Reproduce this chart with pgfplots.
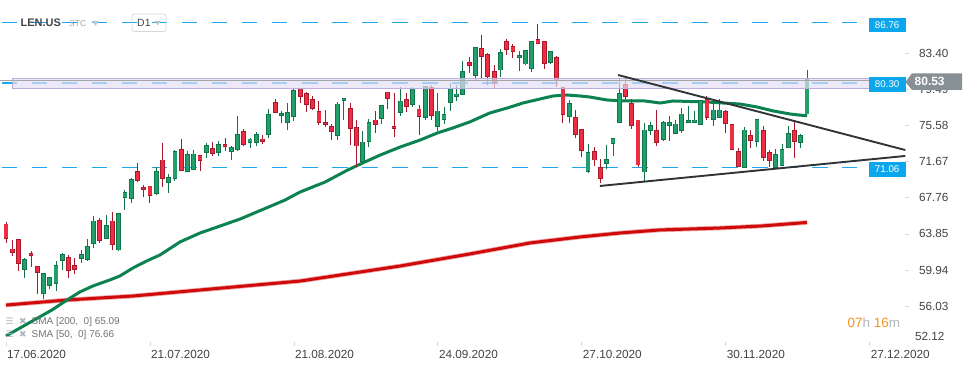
\documentclass[border=0pt]{standalone}
\usepackage{pgfplots}
\pgfplotsset{compat=1.18}
\usepackage{pgfplotstable}
\usepackage{fontspec}
\setmainfont{Liberation Sans}
\newfontfamily\dejavu{DejaVu Sans}

\definecolor{upfill}{HTML}{22A06B}
\definecolor{upline}{HTML}{11734A}
\definecolor{dnfill}{HTML}{EE2D43}
\definecolor{dnline}{HTML}{A8192B}
\definecolor{smagreen}{HTML}{0B8250}
\definecolor{smared}{HTML}{D00A0A}
\definecolor{dashblue}{HTML}{1EA7F0}
\definecolor{boxblue}{HTML}{0BA6EC}
\definecolor{bandfill}{HTML}{E4DEF4}
\definecolor{bandline}{HTML}{BBAEDC}
\definecolor{trig}{HTML}{2F3437}
\definecolor{labelgray}{HTML}{3F4447}
\definecolor{tickgray}{HTML}{D5D8DB}
\definecolor{taggray}{HTML}{879094}
\definecolor{clockor}{HTML}{F7941D}
\definecolor{softgray}{HTML}{AEB6BD}
\definecolor{leggray}{HTML}{6D7378}

% candles: x open high low close
\pgfplotstableread{
x o h l c
3 60.02 61.28 59.12 61.10
6 57.42 59.62 56.85 59.59
7 58.29 59.23 57.93 59.15
8 58.51 60.89 57.71 60.45
9 60.99 61.75 59.95 61.64
12 61.21 62.11 60.74 61.64
13 61.10 63.30 60.95 62.51
14 62.83 65.79 62.37 65.25
16 63.38 65.90 63.30 64.78
18 62.11 66.10 62.05 66.08
19 67.78 68.57 66.44 68.35
20 67.70 69.90 67.16 69.76
24 68.25 71.06 68.03 70.63
26 69.44 70.34 68.32 69.98
27 69.80 72.88 69.58 72.80
29 70.59 72.83 70.55 72.47
30 70.84 72.94 70.80 72.50
32 72.65 73.66 72.11 73.44
34 72.68 73.91 72.32 73.55
36 72.79 73.37 71.85 73.19
37 72.94 76.61 72.86 74.63
39 73.73 74.27 73.19 74.13
40 73.77 74.88 73.40 74.63
42 74.63 77.37 74.20 76.80
44 76.65 77.19 75.89 76.90
45 75.93 77.99 75.10 77.01
46 76.58 79.50 76.11 79.36
53 74.52 78.17 74.02 77.91
54 78.27 78.53 76.18 78.50
57 71.67 74.99 71.49 73.80
58 73.84 76.25 73.30 75.93
60 76.33 77.80 75.75 77.77
63 76.98 79.79 76.65 78.24
65 77.84 79.79 77.63 79.54
67 76.43 79.90 76.18 79.79
69 75.46 79.07 75.03 77.16
70 76.22 77.63 75.71 76.80
71 78.06 80.15 77.19 79.57
72 78.71 79.97 78.27 79.00
73 78.96 82.57 78.90 81.45
75 80.98 84.08 80.44 84.05
79 81.59 83.87 80.87 83.51
82 82.93 83.65 81.52 83.18
83 82.24 83.75 82.13 83.70
84 81.77 84.75 81.41 84.70
87 82.39 83.64 82.28 83.61
90 76.54 78.35 75.89 77.99
93 70.59 73.55 70.41 72.68
96 71.49 73.48 70.88 71.93
97 73.66 74.22 72.32 74.20
98 75.93 80.58 75.90 79.07
102 70.55 75.82 69.55 75.10
103 75.03 76.00 74.56 75.60
105 74.09 76.11 73.95 75.93
106 75.60 76.61 73.95 75.89
107 74.74 76.18 74.67 75.75
108 75.03 77.44 74.81 76.83
109 75.93 77.70 75.82 76.15
110 75.93 77.19 75.82 76.18
111 75.71 78.34 75.68 78.31
113 76.25 78.35 75.57 77.26
114 76.47 78.42 76.44 77.26
118 71.06 75.46 71.03 75.10
120 73.87 76.28 73.22 76.25
123 71.06 73.01 71.03 72.47
124 71.28 73.55 71.25 73.01
125 73.22 75.53 73.19 74.74
127 73.76 74.67 73.12 74.52
128 76.83 81.59 76.80 80.53
}\up

\pgfplotstableread{
x o h l c
0 64.93 65.18 62.91 63.34
1 62.22 63.19 61.46 61.86
2 63.25 63.30 59.88 60.67
4 61.75 62.00 60.31 61.50
5 60.35 60.38 57.35 59.70
10 61.32 61.54 59.12 59.91
11 60.45 61.28 59.55 60.02
15 65.32 65.54 62.91 63.16
17 65.25 66.23 62.11 62.73
21 70.63 71.49 69.44 69.62
22 68.90 69.15 67.81 68.64
23 69.04 69.08 67.24 68.03
25 71.85 73.73 68.97 69.87
28 73.01 74.13 70.62 70.70
31 72.36 72.39 70.70 71.78
33 73.12 73.80 72.29 72.54
35 73.55 74.20 72.86 73.30
38 74.96 75.24 73.40 73.48
41 74.13 74.52 73.55 73.84
43 78.09 78.42 76.98 77.01
47 79.54 79.60 78.06 78.74
48 79.07 79.25 77.08 77.88
49 78.42 78.78 77.26 77.44
50 77.12 78.24 75.64 75.93
51 75.93 77.26 75.46 75.68
52 75.50 75.75 74.02 74.92
55 77.44 77.99 73.48 75.24
56 75.39 76.18 71.13 73.37
59 76.18 77.16 74.81 75.68
61 79.21 79.24 77.37 78.49
62 75.50 79.07 74.38 75.24
64 78.42 79.14 77.08 77.63
66 77.37 77.81 74.56 76.54
68 79.72 79.97 76.18 76.65
74 82.42 82.96 81.23 82.06
76 83.94 85.38 80.69 83.04
77 83.32 83.40 79.97 80.87
78 81.48 82.13 79.61 80.22
80 84.70 84.95 83.22 83.83
81 84.15 84.37 82.93 83.58
85 84.91 86.57 84.40 84.44
86 84.70 84.75 81.70 82.31
88 82.96 83.11 79.72 80.51
89 79.68 79.79 75.82 76.80
91 76.47 77.26 74.20 74.63
92 75.17 75.20 72.14 72.83
94 72.79 73.30 71.20 71.85
95 71.06 71.93 69.33 69.87
99 80.04 80.58 78.35 78.71
100 77.99 78.42 75.21 75.60
101 76.18 76.21 71.13 71.31
104 75.06 77.26 73.40 73.76
112 78.42 78.78 76.18 76.47
115 77.12 77.26 74.81 75.82
116 75.71 75.74 72.98 73.01
117 72.79 73.12 71.10 71.13
119 74.52 75.10 73.19 73.98
121 75.03 75.53 71.78 72.14
122 72.65 72.94 71.13 71.82
126 75.06 76.00 72.11 73.87
}\down

\pgfplotsset{
  wick/.style={draw=none, forget plot, error bars/.cd, y dir=plus, y explicit,
     error mark=none, error bar style={draw=#1, line width=1bp}},
  body/.style 2 args={draw=none, forget plot, error bars/.cd, y dir=plus, y explicit,
     error mark=none, error bar style={draw=#1, line width=#2}},
}

\begin{document}
\begin{tikzpicture}
\useasboundingbox (0,-25.7bp) rectangle (974bp,342.3bp);
\begin{axis}[
  at={(0,0)}, anchor=south west,
  scale only axis, width=905.3bp, height=342.3bp,
  xmin=-0.959, xmax=143.70, ymin=52.12, ymax=89.17,
  axis line style={draw=none},
  clip=false,
  ytick={56.03,59.94,63.85,67.76,71.67,75.58,79.49,83.40},
  yticklabels={56.03,59.94,63.85,67.76,71.67,75.58,79.49,83.40},
  extra y ticks={52.12}, extra y tick labels={52.12},
  extra y tick style={major tick length=0pt, yticklabel style={yshift=5.6bp}},
  ytick pos=right, yticklabel pos=right,
  xtick={0,23,46,69,92,115,138},
  xticklabels={17.06.2020,21.07.2020,21.08.2020,24.09.2020,27.10.2020,30.11.2020,27.12.2020},
  xtick pos=bottom,
  tick align=outside,
  major tick length=4bp,
  tick style={draw=tickgray, line width=0.7bp},
  tick label style={font=\fontsize{11.8}{13}\selectfont, text=labelgray},
  yticklabel style={anchor=west, inner sep=0pt, xshift=9.5bp},
  xticklabel style={anchor=north west, inner sep=0pt, xshift=1bp, yshift=-4bp},
]
% horizontal dashed levels
\addplot[dashblue, line width=1.4bp, dash pattern=on 15.5bp off 14.5bp, forget plot] coordinates {(-0.64,86.76) (135.99,86.76)};
\addplot[dashblue, line width=1.4bp, dash pattern=on 15.5bp off 14.5bp, forget plot] coordinates {(-0.64,80.20) (135.99,80.20)};
\addplot[dashblue, line width=1.4bp, dash pattern=on 15.5bp off 14.5bp, forget plot] coordinates {(-0.64,71.06) (135.99,71.06)};

% SMA 200
\addplot[smared!35, line width=4.6bp, forget plot] coordinates {
(0,56.15) (9.75,56.70) (20.3,57.13) (31,57.78) (47,58.75) (63,60.38) (74.1,61.68)
(83.7,62.87) (91.7,63.52) (98.1,63.95) (104.5,64.28) (114.1,64.49) (120.5,64.70) (128,65.09)};
\addplot[smared, line width=3bp, forget plot] coordinates {
(0,56.15) (9.75,56.70) (20.3,57.13) (31,57.78) (47,58.75) (63,60.38) (74.1,61.68)
(83.7,62.87) (91.7,63.52) (98.1,63.95) (104.5,64.28) (114.1,64.49) (120.5,64.70) (128,65.09)};
% SMA 50
\addplot[smagreen, line width=3bp, forget plot] coordinates {
(0,52.81) (7.35,55.62) (9.75,56.70) (11.8,57.57) (13.9,58.22) (16.6,58.87) (18.2,59.30)
(20.3,60.17) (22.5,60.93) (24.6,61.57) (27.8,62.98) (31.0,63.95) (37.4,65.46) (44.6,67.52)
(47.0,68.39) (51.0,69.47) (54.6,70.77) (57.0,71.53) (59.8,72.39) (63.0,73.26) (66.2,74.02)
(68.9,74.77) (71.4,75.32) (74.1,75.97) (77.3,76.94) (80.1,77.48) (82.6,78.02) (85.3,78.45)
(87.4,78.78) (89.6,78.89) (91.7,78.78) (93.3,78.67) (96.0,78.35) (98.6,78.24) (102.1,78.24)
(104.5,78.02) (106.6,78.24) (112.0,78.13) (114.6,78.02) (117.3,77.91) (120.0,77.59)
(122.6,77.16) (125.3,76.83) (127.4,76.67) (128,76.66)};

% candles: wicks
\addplot[wick=upline] table[x=x, y=l, y error plus expr=\thisrow{h}-\thisrow{l}] {\up};
\addplot[wick=dnline] table[x=x, y=l, y error plus expr=\thisrow{h}-\thisrow{l}] {\down};
% bodies outline
\addplot[body={upline}{4.8bp}] table[x=x, y expr=\thisrow{o}-0.04, y error plus expr=\thisrow{c}-\thisrow{o}+0.08] {\up};
\addplot[body={dnline}{4.8bp}] table[x=x, y expr=\thisrow{c}-0.04, y error plus expr=\thisrow{o}-\thisrow{c}+0.08] {\down};
% bodies fill
\addplot[body={upfill}{3.2bp}] table[x=x, y expr=\thisrow{o}+0.05, y error plus expr={max(\thisrow{c}-\thisrow{o}-0.10,0)}] {\up};
\addplot[body={dnfill}{3.2bp}] table[x=x, y expr=\thisrow{c}+0.05, y error plus expr={max(\thisrow{o}-\thisrow{c}-0.10,0)}] {\down};

% resistance band
\fill[bandfill, fill opacity=0.7] (axis cs:0.96,79.60) rectangle (axis cs:138.0,80.72);
\draw[bandline, line width=0.8bp] (axis cs:0.96,79.60) rectangle (axis cs:138.0,80.72);
\draw[gray!70, line width=0.8bp] (axis cs:-0.96,80.42) -- (axis cs:138.0,80.42);

% triangle
\addplot[trig, line width=1.9bp, forget plot] coordinates {(97.8,81.05) (143.7,72.93)};
\addplot[trig, line width=1.9bp, forget plot] coordinates {(94.9,69.04) (143.7,72.29)};
\end{axis}

% value boxes
\fill[boxblue] (869bp,310.6bp) rectangle (905.5bp,324.0bp);
\node[text=white, font=\fontsize{9.8}{11}\selectfont, inner sep=0] at (887.2bp,317.3bp) {86.76};
\fill[boxblue] (869bp,250.6bp) rectangle (905.5bp,265.0bp);
\node[text=white, font=\fontsize{9.8}{11}\selectfont, inner sep=0] at (887.2bp,257.8bp) {80.30};
\fill[boxblue] (869bp,165.6bp) rectangle (905.5bp,180.0bp);
\node[text=white, font=\fontsize{9.8}{11}\selectfont, inner sep=0] at (887.2bp,172.8bp) {71.06};
% current price tag
\fill[taggray] (905.5bp,260.3bp) -- (912bp,269.0bp) -- (962bp,269.0bp) -- (962bp,252.3bp) -- (912bp,252.3bp) -- cycle;
\node[text=white, font=\bfseries\fontsize{12}{13}\selectfont, inner sep=0, anchor=west] at (914.5bp,260.6bp) {80.53};

% header
\node[anchor=west, inner sep=0, text=labelgray, font=\bfseries\fontsize{11}{12}\selectfont] at (20.5bp,319.3bp) {LEN.US};
\node[anchor=west, inner sep=0, text=softgray!90!black, font=\fontsize{8.5}{9}\selectfont] at (69bp,318.3bp) {STC};
\fill[softgray!80] (92bp,321.5bp) -- (99bp,321.5bp) -- (95.5bp,316.5bp) -- cycle;
\draw[tickgray, line width=0.7bp, rounded corners=2.5bp] (132bp,310.8bp) rectangle (166bp,328.3bp);
\node[anchor=west, inner sep=0, text=labelgray, font=\fontsize{10.5}{12}\selectfont] at (137bp,319.3bp) {D1};
\fill[softgray!80] (154.5bp,321.5bp) -- (161bp,321.5bp) -- (157.75bp,317bp) -- cycle;

% indicator legend
\node[anchor=west, inner sep=0, text=softgray, font=\dejavu\fontsize{9}{10}\selectfont] at (5.5bp,21bp) {☰};
\node[anchor=west, inner sep=0, text=softgray, font=\dejavu\fontsize{9}{10}\selectfont] at (19bp,21bp) {✖};
\node[anchor=west, inner sep=0, text=leggray, font=\fontsize{10}{12}\selectfont] at (31.5bp,20.6bp) {SMA [200,\ \ 0] 65.09};
\node[anchor=west, inner sep=0, text=softgray, font=\dejavu\fontsize{9}{10}\selectfont] at (5.5bp,8bp) {☰};
\node[anchor=west, inner sep=0, text=softgray, font=\dejavu\fontsize{9}{10}\selectfont] at (19bp,8bp) {✖};
\node[anchor=west, inner sep=0, text=leggray, font=\fontsize{10}{12}\selectfont] at (31.5bp,7.6bp) {SMA [50,\ \ 0] 76.66};

% countdown
\node[anchor=west, inner sep=0, font=\fontsize{13.5}{15}\selectfont] at (847.5bp,19.5bp)
  {\textcolor{clockor}{07}\textcolor{softgray}{h} \textcolor{clockor}{16}\textcolor{softgray}{m}};
\end{tikzpicture}
\end{document}
